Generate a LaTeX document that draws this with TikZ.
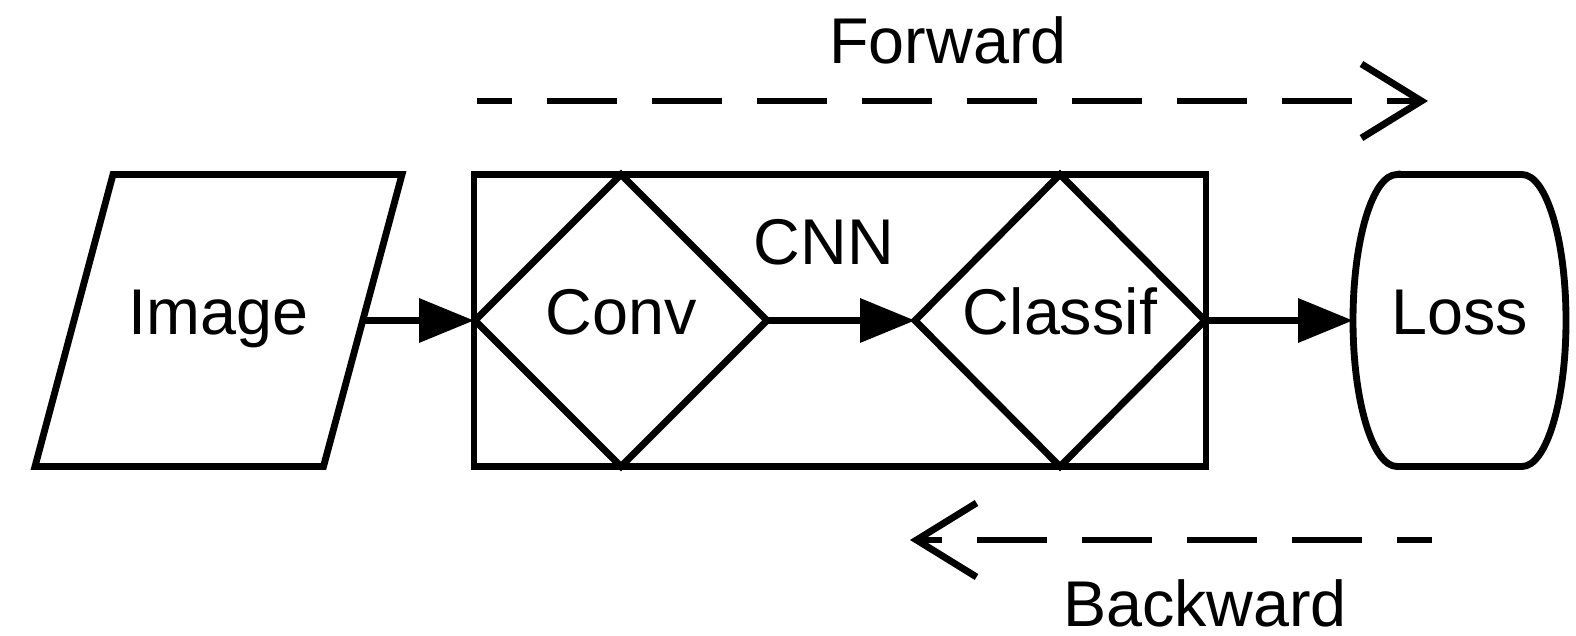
\documentclass[tikz,border=0pt]{standalone}
\usepackage{fontspec}
\setmainfont{Liberation Sans}
\usetikzlibrary{shapes.geometric,arrows.meta}

\begin{document}
\begin{tikzpicture}[line width=1.95pt,
    every node/.style={font=\fontsize{18.4}{22}\selectfont, inner sep=0pt, outer sep=0pt},
    lbl/.style={text height=0.46cm, text depth=0.18cm},
    flow/.style={-{Triangle[length=0.55cm, width=0.43cm]}},
    pass/.style={dash pattern=on 0.70cm off 0.35cm, dash phase=0.35cm,
        -{Straight Barb[length=0.60cm, width=0.74cm]}}]
    \useasboundingbox (0,0) rectangle (15.76,-6.36);

    % input image (parallelogram)
    \draw (1.13,-1.745) -- (4.02,-1.745) -- (3.235,-4.665) -- (0.35,-4.665) -- cycle;
    \node[lbl] (image) at (2.185,-3.205) {Image};
    \coordinate (image-e) at (3.6275,-3.205);

    % network and loss
    \node[draw, rectangle, minimum width=7.32cm, minimum height=2.92cm] (cnn) at (8.40,-3.205) {};
    \node[draw, diamond, minimum width=2.92cm, minimum height=2.92cm, lbl] (conv) at (6.21,-3.205) {Conv};
    \node[draw, diamond, minimum width=2.90cm, minimum height=2.92cm, lbl] (classif) at (10.60,-3.205) {Classif};
    \node (cnnlbl) at (8.24,-2.42) {CNN};
    \node[minimum width=2.13cm, minimum height=2.92cm, lbl] (loss) at (14.595,-3.205) {Loss};
    \draw ([xshift=0.44cm]loss.north west) -- ([xshift=-0.44cm]loss.north east)
        arc (90:-90:0.44cm and 1.46cm) -- ([xshift=0.44cm]loss.south west)
        arc (270:90:0.44cm and 1.46cm) -- cycle;

    \foreach \a/\b in {image-e/cnn.west, conv.east/classif.west, classif.east/loss.west} {
        \draw[flow] (\a) -- (\b);
    }

    % forward and backward passes
    \coordinate (fwd-a) at (4.77,-1.01);
    \coordinate (fwd-b) at (14.28,-1.01);
    \coordinate (bwd-a) at (14.32,-5.40);
    \coordinate (bwd-b) at (9.10,-5.40);
    \draw[pass] (fwd-a) -- (fwd-b);
    \draw[pass] (bwd-a) -- (bwd-b);
    \node (fwdlbl) at (9.48,-0.40) {Forward};
    \node (bwdlbl) at (12.05,-6.03) {Backward};
\end{tikzpicture}
\end{document}
